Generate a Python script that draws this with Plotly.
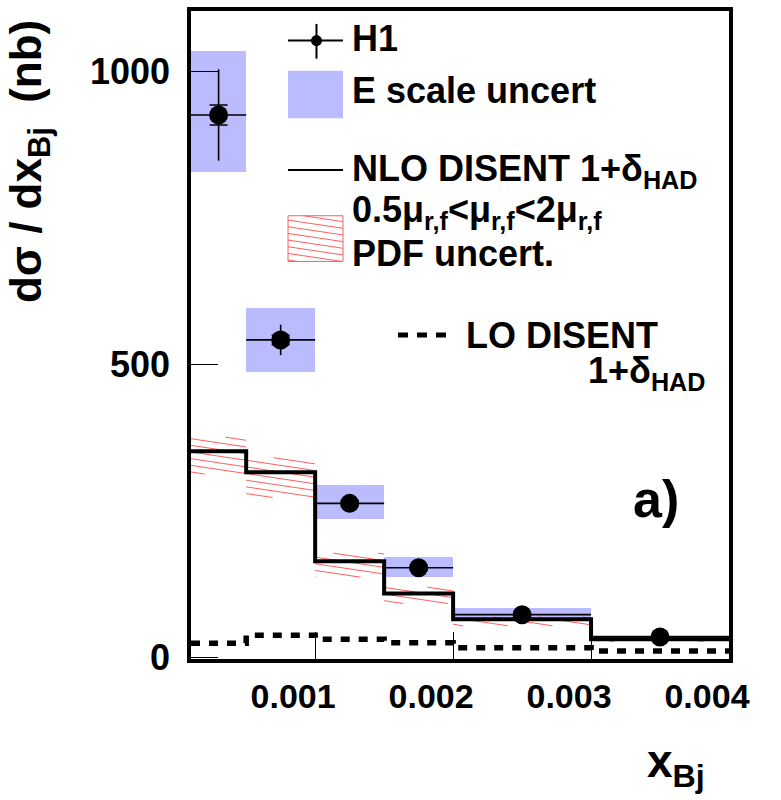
import plotly.graph_objects as go

# ---------------- data ----------------
bin_lo = [0.0001, 0.0005, 0.001, 0.0015, 0.002, 0.003]
bin_hi = [0.0005, 0.001, 0.0015, 0.002, 0.003, 0.004]
h1 = [926, 542, 263, 153, 73, 35]
h1_err_tot = [78, 26, 9, 7, 5, 4]
h1_err_stat = [17, 8, 5, 4, 3, 2]
escale_lo = [828, 487, 237, 138, 68, 30]
escale_hi = [1036, 597, 294, 171, 84, 38]
nlo = [352, 316, 164, 109, 65, 31]
nlo_band_lo = [313, 273, 137, 92, 54, 27]
nlo_band_hi = [376, 341, 178, 120, 69, 34]
lo = [24, 38, 31, 25, 16.5, 11]
x_ticks = [0.001, 0.002, 0.003, 0.004]
x_ticktext = ["0.001", "0.002", "0.003", "0.004"]
y_ticks = [0, 500, 1000]
y_ticktext = ["0", "500", "1000"]

# ---------------- geometry ----------------
W_FIG, H_FIG = 781, 800
L, R, T, B = 191, 729, 7, 659
PW, PH = R - L, B - T
XMIN, XMAX = 0.0001, 0.004
YMIN, YMAX = -2.7, 1103.5
FONT = "Liberation Sans, Arial, Helvetica, sans-serif"
BLUE = "#bbbbff"
RED = "rgb(255,95,95)"


def px_x(p):
    return (p - L) / PW


def px_y(p):
    return (B - p) / PH


def d2px_x(x):
    return L + (x - XMIN) / (XMAX - XMIN) * PW


def d2px_y(y):
    return B - (y - YMIN) / (YMAX - YMIN) * PH


def px2d_x(p):
    return XMIN + (p - L) / PW * (XMAX - XMIN)


def px2d_y(p):
    return YMIN + (B - p) / PH * (YMAX - YMIN)


def hatch_segments(xa, xb, ya, yb, slope=0.15, spacing=6.7):
    """hatch lines py = c + slope*px clipped to pixel rect (ya<yb)."""
    segs = []
    cmin = ya - slope * xb
    cmax = yb - slope * xa
    n0 = int(cmin // spacing) - 1
    n1 = int(cmax // spacing) + 1
    for n in range(n0, n1 + 1):
        c = n * spacing
        x1 = max(xa, (ya - c) / slope)
        x2 = min(xb, (yb - c) / slope)
        if x2 - x1 > 0.5:
            segs.append(((x1, c + slope * x1), (x2, c + slope * x2)))
    return segs


fig = go.Figure()

# E-scale uncertainty boxes
centers = [(a + b) / 2 for a, b in zip(bin_lo, bin_hi)]
widths = [b - a for a, b in zip(bin_lo, bin_hi)]
fig.add_trace(go.Bar(
    x=centers, y=[h - l for h, l in zip(escale_hi, escale_lo)], base=escale_lo,
    width=widths, marker=dict(color=BLUE, line=dict(width=0)), showlegend=False))

# hatched NLO band (scale + PDF)
hx, hy = [], []
for a, b, l_, h_ in zip(bin_lo, bin_hi, nlo_band_lo, nlo_band_hi):
    for (p1, p2) in hatch_segments(d2px_x(a), d2px_x(b), d2px_y(h_), d2px_y(l_)):
        hx += [px2d_x(p1[0]), px2d_x(p2[0]), None]
        hy += [px2d_y(p1[1]), px2d_y(p2[1]), None]
fig.add_trace(go.Scatter(x=hx, y=hy, mode="lines", line=dict(color=RED, width=1),
                         hoverinfo="skip", showlegend=False))

# NLO step line
fig.add_trace(go.Scatter(x=bin_lo + [bin_hi[-1]], y=nlo + [nlo[-1]], mode="lines",
                         line=dict(color="black", width=4, shape="hv"), showlegend=False))
# LO dashed step line
fig.add_trace(go.Scatter(x=bin_lo + [bin_hi[-1]], y=lo + [lo[-1]], mode="lines",
                         line=dict(color="black", width=5.5, shape="hv", dash="9px,9px"),
                         showlegend=False))

# H1 data: total errors
fig.add_trace(go.Scatter(
    x=centers, y=h1, mode="markers",
    marker=dict(color="black", size=19),
    error_y=dict(type="data", array=h1_err_tot, width=0, thickness=1.6, color="black"),
    error_x=dict(type="data", array=[w / 2 for w in widths], width=0, thickness=1.6, color="black"),
    showlegend=False))
# statistical caps
fig.add_trace(go.Scatter(
    x=centers, y=h1, mode="markers", marker=dict(size=0.1, color="black"),
    error_y=dict(type="data", array=h1_err_stat, width=9, thickness=1.6, color="black"),
    showlegend=False))

# ---------------- legend (drawn) ----------------
shapes = []
annotations = []
# H1 symbol
shapes.append(dict(type="line", xref="paper", yref="paper", x0=px_x(288), x1=px_x(343),
                   y0=px_y(36.7), y1=px_y(36.7), line=dict(color="black", width=2)))
shapes.append(dict(type="line", xref="paper", yref="paper", x0=px_x(316.5), x1=px_x(316.5),
                   y0=px_y(20), y1=px_y(55), line=dict(color="black", width=2)))
shapes.append(dict(type="circle", xref="paper", yref="paper", x0=px_x(311), x1=px_x(322),
                   y0=px_y(31.2), y1=px_y(42.2), fillcolor="black", line=dict(width=0)))
# E scale box
shapes.append(dict(type="rect", xref="paper", yref="paper", x0=px_x(288), x1=px_x(343),
                   y0=px_y(115), y1=px_y(67), fillcolor=BLUE, line=dict(width=0)))
# NLO line
shapes.append(dict(type="line", xref="paper", yref="paper", x0=px_x(288), x1=px_x(343),
                   y0=px_y(167), y1=px_y(167), line=dict(color="black", width=2)))
# hatched box
shapes.append(dict(type="rect", xref="paper", yref="paper", x0=px_x(288), x1=px_x(343),
                   y0=px_y(259), y1=px_y(213), line=dict(color=RED, width=1)))
for (p1, p2) in hatch_segments(288, 343, 213, 259):
    shapes.append(dict(type="line", xref="paper", yref="paper",
                       x0=px_x(p1[0]), x1=px_x(p2[0]), y0=px_y(p1[1]), y1=px_y(p2[1]),
                       line=dict(color=RED, width=1)))
# LO dashes
shapes.append(dict(type="line", xref="paper", yref="paper", x0=px_x(398), x1=px_x(447),
                   y0=px_y(333), y1=px_y(333), line=dict(color="black", width=5, dash="10px,9px")))

LEG = dict(family=FONT, size=36, color="black", weight="bold")


def ann(text, x, y, xanchor="left", size=None, **kw):
    f = dict(LEG)
    if size:
        f["size"] = size
    annotations.append(dict(text=text, xref="paper", yref="paper", x=px_x(x), y=px_y(y),
                            xanchor=xanchor, yanchor="middle", showarrow=False,
                            borderpad=0, font=f, **kw))


ann("H1", 351, 35)
ann("E scale uncert", 351, 87)
ann("NLO DISENT 1+δ<sub>HAD</sub>", 351, 168)
ann("0.5μ<sub>r,f</sub>&lt;μ<sub>r,f</sub>&lt;2μ<sub>r,f</sub>", 351, 209)
ann("PDF uncert.", 351, 251)
ann("LO DISENT", 465, 333)
ann("1+δ<sub>HAD</sub>", 706, 371, xanchor="right")
ann("a)", 656, 498, xanchor="center", size=52)
# axis titles
ann("x<sub>Bj</sub>", 676, 765, xanchor="center", size=46)
ann("dσ / dx<sub>Bj</sub>  (nb)", 29, 159, xanchor="center", size=44, textangle=-90)

fig.update_layout(
    width=W_FIG, height=H_FIG,
    margin=dict(l=L, r=W_FIG - R, t=T, b=H_FIG - B, pad=0),
    paper_bgcolor="white", plot_bgcolor="white",
    barmode="overlay", bargap=0,
    shapes=shapes, annotations=annotations,
    showlegend=False,
    font=dict(family=FONT),
)
fig.update_xaxes(range=[XMIN, XMAX], showgrid=False, zeroline=False,
                 showline=True, mirror=True, linecolor="black", linewidth=3.5,
                 ticks="inside", ticklen=27, tickwidth=1.2, tickcolor="black",
                 tickvals=x_ticks, ticktext=x_ticktext,
                 tickfont=dict(family=FONT, size=34, color="black", weight="bold"),
                 ticklabelshift=-22, ticklabelstandoff=4)
fig.update_yaxes(range=[YMIN, YMAX], showgrid=False, zeroline=False,
                 showline=True, mirror=True, linecolor="black", linewidth=3.5,
                 ticks="inside", ticklen=27, tickwidth=1.2, tickcolor="black",
                 tickvals=y_ticks, ticktext=y_ticktext,
                 tickfont=dict(family=FONT, size=36, color="black", weight="bold"),
                 ticklabelstandoff=10)

fig.write_html("out.html")
